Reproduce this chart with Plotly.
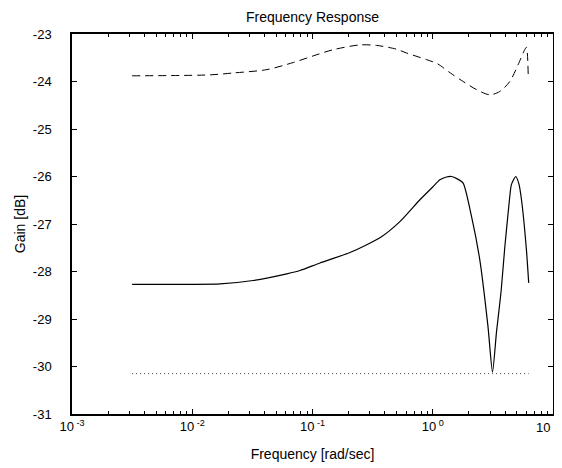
import plotly.graph_objects as go

# Solid curve (gain, dB)
solid_freq = [0.00316, 0.0100, 0.0171, 0.0321, 0.0611, 0.0787, 0.1154, 0.2048, 0.364, 0.533,
              0.782, 1.00, 1.147, 1.30, 1.433, 1.60, 1.79, 2.10, 2.46, 2.88, 3.14, 3.39,
              3.70, 3.97, 4.30, 4.51, 4.90, 5.20, 5.47, 6.01, 6.28]
solid_gain = [-28.27, -28.27, -28.26, -28.19, -28.05, -27.98, -27.82, -27.60, -27.29, -26.95,
              -26.49, -26.22, -26.07, -26.01, -26.00, -26.05, -26.14, -26.84, -27.75, -29.16, -30.12, -29.27,
              -28.42, -27.50, -26.60, -26.17, -26.00, -26.15, -26.49, -27.54, -28.24]

# Dashed curve
dash_freq = [0.00316, 0.0141, 0.0220, 0.0417, 0.0692, 0.1016, 0.149, 0.248, 0.341,
             0.500, 0.605, 0.889, 1.10, 1.40, 1.79, 2.31, 2.98, 3.61, 4.37, 5.12,
             5.82, 6.01, 6.22]
dash_gain = [-23.88, -23.86, -23.82, -23.75, -23.60, -23.46, -23.33, -23.23, -23.24,
             -23.32, -23.40, -23.54, -23.63, -23.82, -24.00, -24.17, -24.28, -24.21, -24.00, -23.65,
             -23.33, -23.28, -23.86]

# Dotted reference line
dot_freq = [0.00316, 6.28]
dot_gain = [-30.15, -30.15]

x_tick_vals = [0.001, 0.01, 0.1, 1, 10]
x_tick_text = ["10<sup> -3</sup>", "10<sup> -2</sup>", "10<sup> -1</sup>", "10<sup> 0</sup>", ""]
last_tick_label = "10"
x_minor_vals = [m * d for d in [0.001, 0.01, 0.1, 1] for m in range(2, 10)]
y_tick_vals = [-23, -24, -25, -26, -27, -28, -29, -30, -31]
y_tick_text = ["-23", "-24", "-25", "-26", "-27", "-28", "-29", "-30", "-31"]

fig = go.Figure()
fig.add_trace(go.Scatter(x=dash_freq, y=dash_gain, mode="lines",
                         line=dict(color="black", width=1, dash="8px,5px", shape="spline", smoothing=0.8)))
fig.add_trace(go.Scatter(x=solid_freq, y=solid_gain, mode="lines",
                         line=dict(color="black", width=1.2, shape="spline", smoothing=0.6)))
fig.add_trace(go.Scatter(x=dot_freq, y=dot_gain, mode="lines",
                         line=dict(color="#444", width=1, dash="1px,3px")))

# label of the last decade (its exponent falls outside the picture in the reference)
fig.add_annotation(x=1, xref="x", y=0, yref="paper", text=last_tick_label, showarrow=False,
                   xanchor="right", yanchor="top", xshift=-1, yshift=-4, font=dict(size=13))

font = "Liberation Sans, Arial, sans-serif"
fig.update_layout(
    width=562, height=468,
    margin=dict(l=64, r=17, t=26, b=62),
    paper_bgcolor="white", plot_bgcolor="white",
    showlegend=False,
    font=dict(family=font, size=13, color="black"),
    title=dict(text="Frequency Response", x=0.5418, xanchor="center", y=0.981, yanchor="middle",
               font=dict(size=14)),
    xaxis=dict(type="log", range=[-3, 1], showgrid=False, zeroline=False, automargin=False,
               showline=True, linecolor="black", linewidth=1.5, mirror="allticks",
               ticks="inside", ticklen=5, tickwidth=1, tickcolor="black",
               tickvals=x_tick_vals, ticktext=x_tick_text,
               minor=dict(ticks="inside", ticklen=3, tickcolor="black", tickvals=x_minor_vals, showgrid=False),
               title=dict(text="Frequency [rad/sec]", standoff=16, font=dict(size=14))),
    yaxis=dict(range=[-31, -23], showgrid=False, zeroline=False, automargin=False,
               showline=True, linecolor="black", linewidth=1.5, mirror="allticks",
               ticks="inside", ticklen=5, tickwidth=1, tickcolor="black",
               tickvals=y_tick_vals, ticktext=y_tick_text, ticklabelstandoff=16,
               title=dict(text="Gain [dB]", standoff=4, font=dict(size=14))),
)

fig.write_html("out.html")
